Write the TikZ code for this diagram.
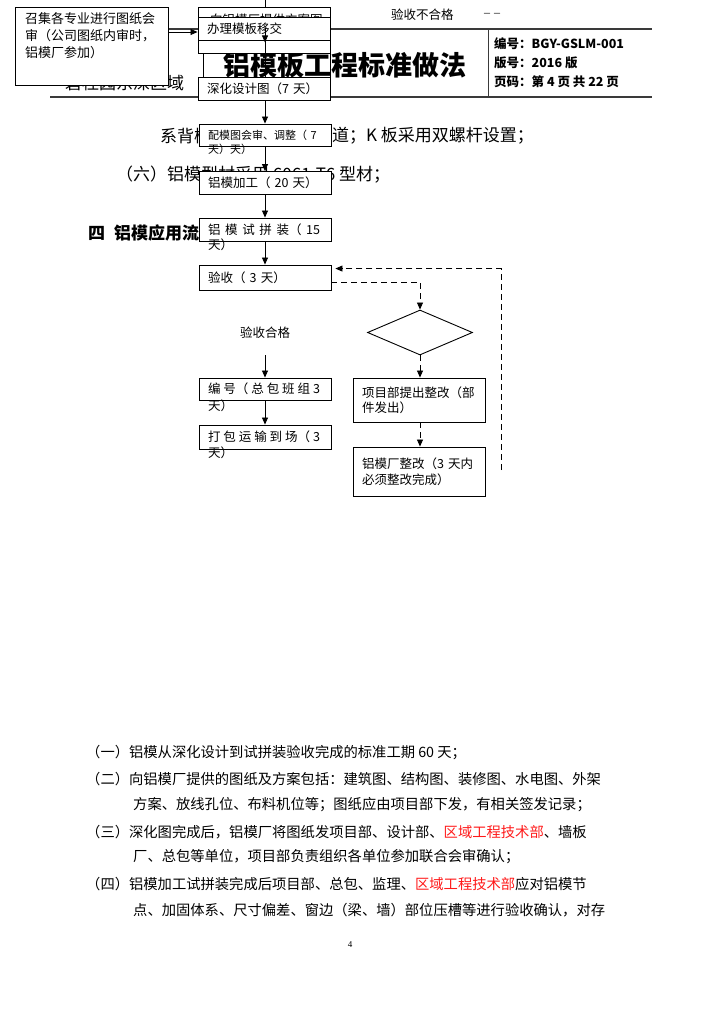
\documentclass[tikz,border=0pt]{standalone}
\usepackage{fontspec}
\setmainfont{Liberation Serif}
\newfontfamily\cjk{Noto Sans CJK SC}
\usepackage{tikz}
\usetikzlibrary{positioning,arrows.meta,shapes.geometric,calc}
\usepackage{xcolor}
\definecolor{ink}{HTML}{000000}
\definecolor{rulec}{HTML}{3A3A3A}
\definecolor{redtxt}{HTML}{FF1A1A}

\newcommand{\spanrow}[1]{\makebox[112pt][s]{#1}}

\tikzset{
  flowbox/.style={draw=ink, fill=white, line width=0.9pt, minimum width=132pt, minimum height=23pt,
    text width=114pt, align=left, inner xsep=9pt, inner ysep=0pt, font=\cjk\fontsize{12.5}{15.5}\selectfont},
  lowtxt/.style={anchor=west, inner sep=0pt, font=\cjk\fontsize{12.5}{15}\selectfont},
  para/.style={anchor=west, inner sep=0pt, font=\cjk\fontsize{14.3}{16}\selectfont},
  bodytxt/.style={anchor=west, inner sep=0pt, font=\cjk\fontsize{17}{20}\selectfont},
  arr/.style={-{Triangle[length=7pt,width=6pt]}, line width=0.8pt},
  dasharr/.style={arr, dash pattern=on 6pt off 4pt},
}

\begin{document}
\begin{tikzpicture}[x=1pt, y=-1pt]
  \useasboundingbox[fill=white] (0,0) rectangle (724,1024);

  % page header
  \draw[rulec, line width=1.4pt] (50,29) -- (652,29);
  \draw[rulec, line width=1.4pt] (50,97) -- (652,97);
  \draw[rulec, line width=0.8pt] (488,29) -- (488,97);
  \node[font=\cjk\bfseries\fontsize{27}{30}\selectfont, inner sep=0pt] (title) at (345,65) {铝模板工程标准做法};
  \node[bodytxt] (area) at (65,83) {碧桂园东深区域};
  \node[anchor=west, inner sep=0pt, font=\cjk\bfseries\fontsize{12.5}{15}\selectfont] (docno) at (494,44) {编号：BGY-GSLM-001};
  \node[anchor=west, inner sep=0pt, font=\cjk\bfseries\fontsize{12.5}{15}\selectfont] (verno) at (494,63) {版号：2016 版};
  \node[anchor=west, inner sep=0pt, font=\cjk\bfseries\fontsize{12.5}{15}\selectfont] (pageno) at (494,82) {页码：第 4 页 共 22 页};
  \node[lowtxt] (fail) at (391,15) {验收不合格};
  \node[anchor=west, inner sep=0pt, font=\fontsize{12}{14}\selectfont] (faildash) at (484,15) {--\,\,--};

  % text behind the chart
  \node[bodytxt] (bolt1) at (160,136) {系背楞};
  \node[bodytxt] (bolt2) at (332,136) {道；K 板采用双螺杆设置；};
  \node[bodytxt] (alloy) at (116,175) {（六）铝模型材采用 6061-T6 型材；};
  \node[bodytxt, font=\cjk\bfseries\fontsize{17}{20}\selectfont] (sect) at (88,233) {四\hspace{9pt}铝模应用流程};

  % flow chart, left column
  \node[flowbox, minimum height=46pt] (issue) at (264,30) {};
  \node[lowtxt] (issuetx) at (210,20) {向铝模厂提供方案图};
  \node[flowbox] (handover) at (264,28.5) {办理模板移交};
  \draw[line width=0.9pt] (203,53) rectangle (330,77);
  \node[flowbox, minimum width=153pt, minimum height=78pt, anchor=north west] (meet) at (15,7) {};
  \node[anchor=north west, inner sep=0pt, font=\cjk\fontsize{13}{17}\selectfont, align=left] (meettx) at (25,12)
    {召集各专业进行图纸会\\审（公司图纸内审时，\\铝模厂参加）};
  \node[flowbox] (design) at (264,88.5) {深化设计图（7 天）};
  \node[flowbox, minimum height=22pt, font=\cjk\fontsize{11}{13}\selectfont] (review) at (265,135) {配模图会审、调整（ 7};
  \node[lowtxt, font=\cjk\fontsize{11}{13}\selectfont] (reviewx) at (208,149) {天）天）};
  \node[flowbox] (fab) at (265,183) {铝模加工（ 20 天）};
  \node[flowbox] (trial) at (265,229.5) {\spanrow{铝\hfil 模\hfil 试\hfil 拼\hfil 装（\hfil 15}};
  \node[lowtxt] (trialx) at (208,245) {天）};
  \node[flowbox, minimum height=25pt] (accept) at (265,277.5) {验收（ 3 天）};
  \node[lowtxt, anchor=center] (pass) at (265,333) {验收合格};
  \coordinate (passout) at (265,355);
  \node[flowbox, minimum height=22pt] (number) at (265,389) {\spanrow{编\hfil 号（\hfil 总\hfil 包\hfil 班\hfil 组\hfil 3}};
  \node[lowtxt] (numberx) at (208,406) {天）};
  \node[flowbox, minimum height=24pt] (pack) at (265,437) {\spanrow{打\hfil 包\hfil 运\hfil 输\hfil 到\hfil 场（\hfil 3}};
  \node[lowtxt] (packx) at (208,453) {天）};

  % flow chart, right column
  \node[diamond, draw=ink, fill=white, line width=0.9pt, minimum width=105pt, minimum height=45pt,
    inner sep=0pt, aspect=2.33] (check) at (420,332.5) {};
  \node[flowbox, minimum height=44pt] (rectify) at (419,400) {项目部提出整改（部\\件发出）};
  \node[flowbox, minimum height=49pt] (factory) at (419,471.5) {铝模厂整改（3 天内\\必须整改完成）};
  \coordinate (loopend) at (501,470);

  % connectors
  \coordinate (topin) at (265,0);
  \draw[line width=0.8pt] (topin) -- (topin |- issue.north);
  \draw[arr] ([xshift=1pt]handover.center) -- ([xshift=1pt, yshift=-2pt]handover.south);
  \draw[line width=0.8pt] ([xshift=1pt]handover.south) -- ([xshift=1pt]design.north);
  \draw[arr] (meet.east |- 0,32) -- (handover.west |- 0,32);
  \draw[arr] ([xshift=1pt]design.south) -- (review.north);
  \draw[arr] (review.south) -- (fab.north);
  \draw[arr] (fab.south) -- (trial.north);
  \draw[arr] (trial.south) -- (accept.north);
  \draw[arr] (passout) -- (number.north);
  \draw[arr] (number.south) -- (pack.north);
  \draw[dasharr] ([yshift=-4.5pt]accept.east) -| (check.north);
  \draw[dasharr] (check.south) -- (check.south |- rectify.north);
  \draw[dasharr] (check.south |- rectify.south) -- (check.south |- factory.north);
  \draw[dasharr] (loopend) |- ([xshift=4pt, yshift=-4pt]accept.north east);

  % notes
  \node[para] (n1) at (86,753) {（一）铝模从深化设计到试拼装验收完成的标准工期 60 天；};
  \node[para] (n2) at (86,779) {（二）向铝模厂提供的图纸及方案包括：建筑图、结构图、装修图、水电图、外架};
  \node[para] (n2b) at (133,805) {方案、放线孔位、布料机位等；图纸应由项目部下发，有相关签发记录；};
  \node[para] (n3) at (86,832) {（三）深化图完成后，铝模厂将图纸发项目部、设计部、\textcolor{redtxt}{区域工程技术部}、墙板};
  \node[para] (n3b) at (133,857) {厂、总包等单位，项目部负责组织各单位参加联合会审确认；};
  \node[para] (n4) at (86,884) {（四）铝模加工试拼装完成后项目部、总包、监理、\textcolor{redtxt}{区域工程技术部}应对铝模节};
  \node[para] (n4b) at (133,910) {点、加固体系、尺寸偏差、窗边（梁、墙）部位压槽等进行验收确认，对存};
  \node[font=\fontsize{9}{10}\selectfont, inner sep=0pt] (folio) at (350,945) {4};
\end{tikzpicture}
\end{document}
